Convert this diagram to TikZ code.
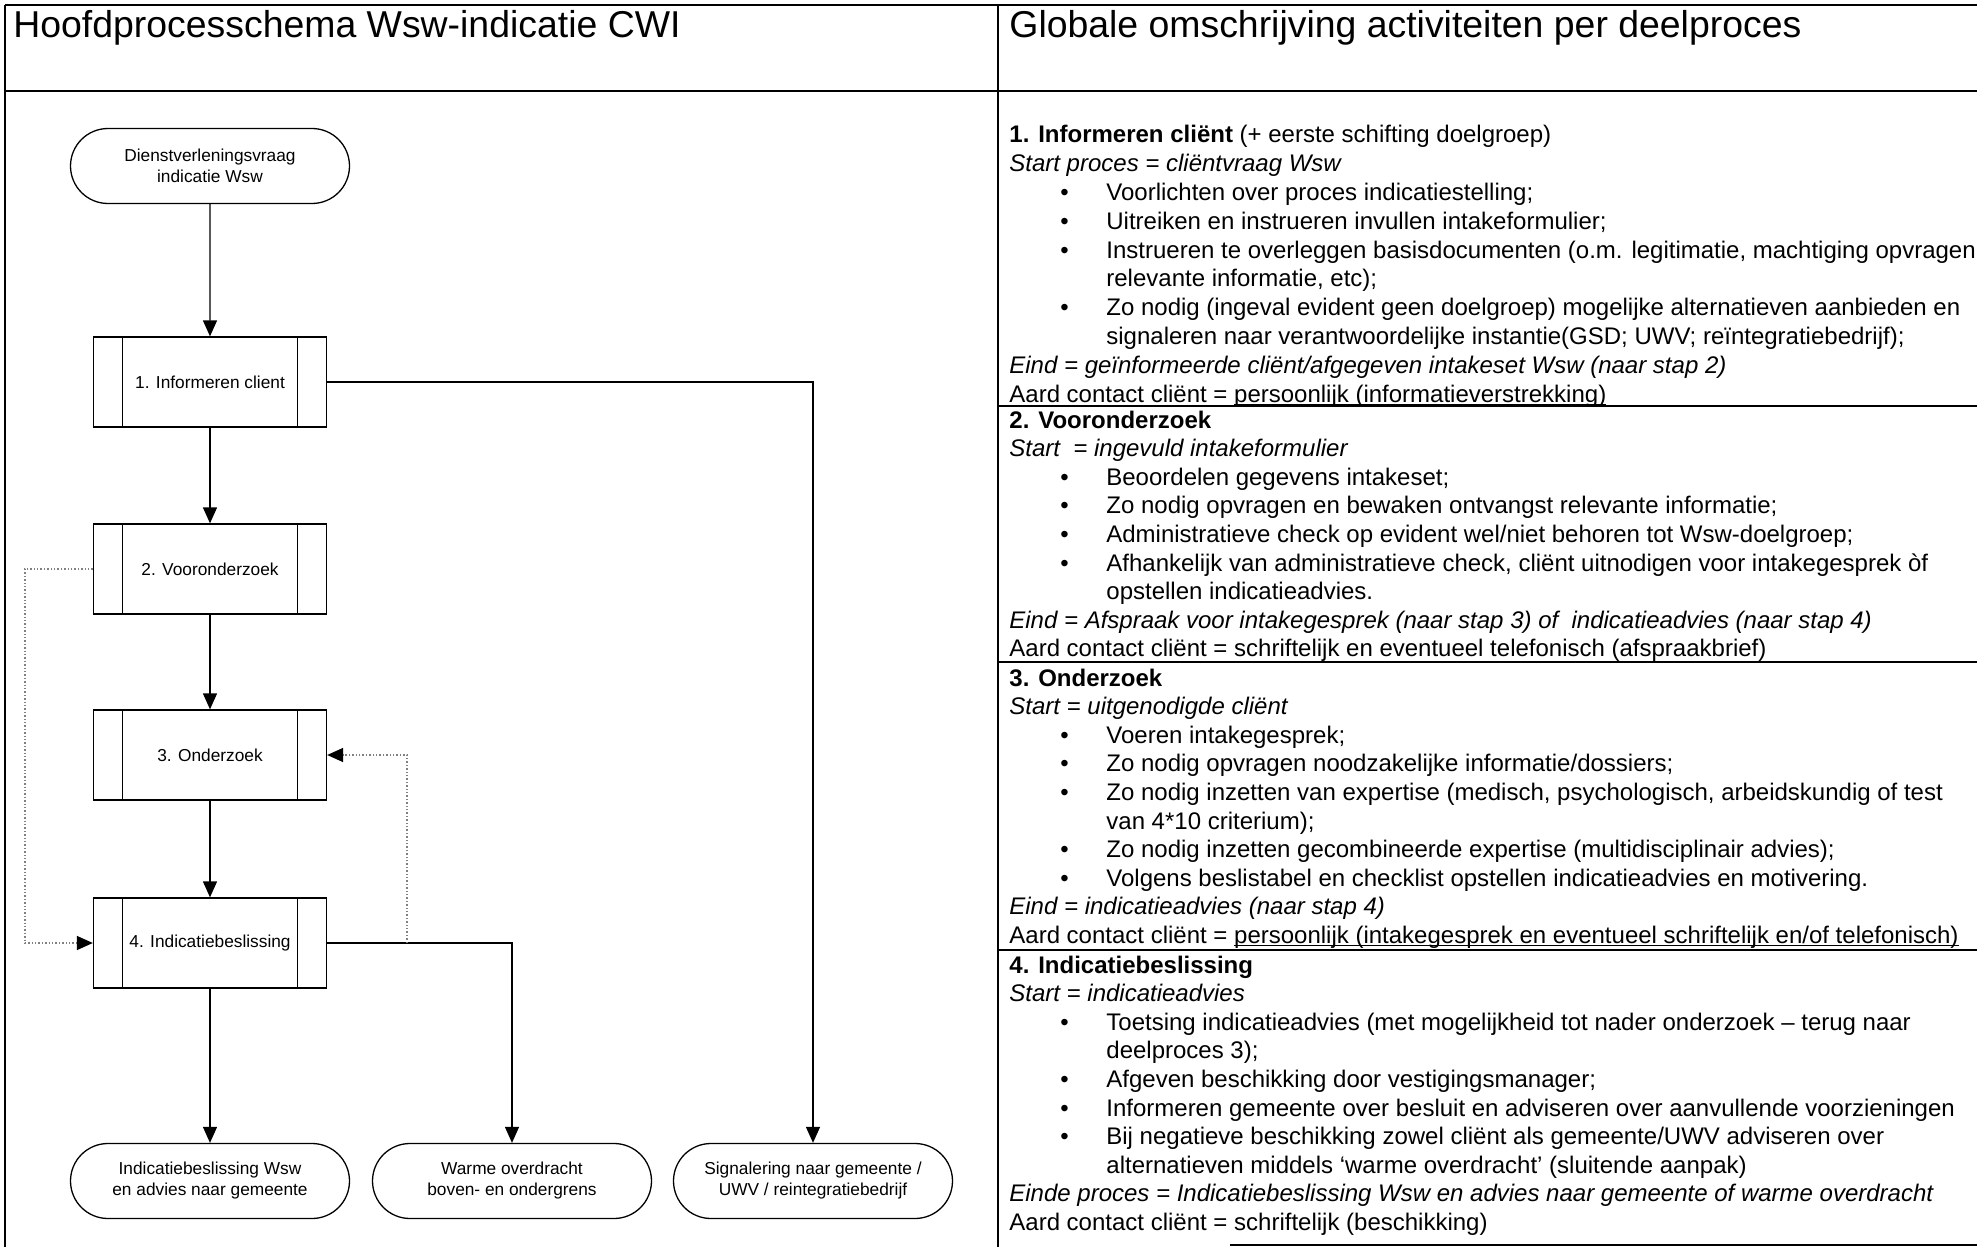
\documentclass[tikz,border=0pt]{standalone}
\usepackage{fontspec}
\setmainfont{Liberation Sans}
\usetikzlibrary{arrows.meta,shapes.misc,calc}

% bullet line, continuation line, and a close underline
\newcommand\bul[1]{\hspace*{25.5pt}\makebox[23pt][l]{\textbullet}#1}
\newcommand\cnt[1]{\hspace*{48.5pt}#1}
\newcommand\ulin[1]{\sbox0{#1}\rlap{\rule[-1.5pt]{\wd0}{0.7pt}}\usebox0}
\newcommand\bodyfont{\fontsize{12pt}{14.3pt}\selectfont}

\begin{document}
\begin{tikzpicture}[x=0.5pt,y=-0.5pt,
  frame/.style={line width=1.4pt},
  flow/.style={line width=0.65pt},
  arr/.style={flow,-{Triangle[width=7pt,length=8pt]}},
  dotarr/.style={line width=0.7pt,gray,densely dotted,-{Triangle[width=7pt,length=8pt,color=black]}},
  chart/.style={font=\fontsize{8.65pt}{10.5pt}\selectfont,align=center,inner sep=0pt},
  procbox/.style={chart,draw,line width=0.65pt,rectangle,minimum width=116.5pt,minimum height=45pt,
    path picture={
      \draw[line width=0.65pt] ([xshift=14.5pt]path picture bounding box.north west) -- ([xshift=14.5pt]path picture bounding box.south west);
      \draw[line width=0.65pt] ([xshift=-14.5pt]path picture bounding box.north east) -- ([xshift=-14.5pt]path picture bounding box.south east);}},
  term/.style={chart,draw,line width=0.65pt,rounded rectangle,minimum width=139.5pt,minimum height=37.5pt},
  headfont/.style={font=\fontsize{18.7pt}{22pt}\selectfont,anchor=base west,inner sep=0pt},
  col/.style={anchor=base west,inner sep=0pt}
]
\useasboundingbox (0,0) rectangle (1977,1247);
\fill[white] (0,0) rectangle (1977,1247);

% table rules
\draw[frame] (5,5) -- (1977,5);
\draw[frame] (5,91) -- (1977,91);
\draw[frame] (5,5) -- (5,1247);
\draw[frame] (998,5) -- (998,1247);
\draw[frame] (998,406) -- (1977,406);
\draw[frame] (998,662) -- (1977,662);
\draw[frame] (998,950) -- (1977,950);
\draw[frame] (1230,1245) -- (1977,1245);

% column headings
\node[headfont] (hleft) at (13,38) {Hoofdprocesschema Wsw-indicatie CWI};
\node[headfont] (hright) at (1009,38) {Globale omschrijving activiteiten per deelproces};

% flowchart
\node[term] (start) at (210,166) {Dienstverleningsvraag\\indicatie Wsw};
\node[procbox] (b1) at (210,382) {1. Informeren client};
\node[procbox] (b2) at (210,569) {2. Vooronderzoek};
\node[procbox] (b3) at (210,755) {3. Onderzoek};
\node[procbox] (b4) at (210,943) {4. Indicatiebeslissing};
\node[term] (t1) at (210,1181) {Indicatiebeslissing Wsw\\en advies naar gemeente};
\node[term] (t2) at (512,1181) {Warme overdracht\\boven- en ondergrens};
\node[term] (t3) at (813,1181) {Signalering naar gemeente /\\UWV / reintegratiebedrijf};

\draw[arr] (start) -- (b1);
\draw[arr] (b1) -- (b2);
\draw[arr] (b2) -- (b3);
\draw[arr] (b3) -- (b4);
\draw[arr] (b4) -- (t1);
\draw[arr] (b1.east) -| (t3.north);
\draw[arr] (b4.east) -| (t2.north);
\coordinate (fb) at (407,943);
\draw[dotarr] (fb) |- (b3.east);
\draw[dotarr] (b2.west) -- ++(-68,0) |- (b4.west);

% activity descriptions
\node[col] (s1) at (1009,143) {\parbox[t]{560pt}{\raggedright\fontsize{12pt}{14.4pt}\selectfont
\textbf{1. Informeren cliënt} (+ eerste schifting doelgroep)\\
\textit{Start proces = cliëntvraag Wsw}\\
\bul{Voorlichten over proces indicatiestelling;}\\
\bul{Uitreiken en instrueren invullen intakeformulier;}\\
\bul{Instrueren te overleggen basisdocumenten (o.m. legitimatie, machtiging opvragen}\\
\cnt{relevante informatie, etc);}\\
\bul{Zo nodig (ingeval evident geen doelgroep) mogelijke alternatieven aanbieden en}\\
\cnt{signaleren naar verantwoordelijke instantie(GSD; UWV; reïntegratiebedrijf);}\\
\textit{Eind = geïnformeerde cliënt/afgegeven intakeset Wsw (naar stap 2)}\\
Aard contact cliënt = \ulin{persoonlijk (informatieverstrekking)}}};

\node[col] (s2) at (1009,428) {\parbox[t]{560pt}{\raggedright\bodyfont
\textbf{2. Vooronderzoek}\\
\textit{Start\ \ = ingevuld intakeformulier}\\
\bul{Beoordelen gegevens intakeset;}\\
\bul{Zo nodig opvragen en bewaken ontvangst relevante informatie;}\\
\bul{Administratieve check op evident wel/niet behoren tot Wsw-doelgroep;}\\
\bul{Afhankelijk van administratieve check, cliënt uitnodigen voor intakegesprek òf}\\
\cnt{opstellen indicatieadvies.}\\
\textit{Eind = Afspraak voor intakegesprek (naar stap 3) of\ \ indicatieadvies (naar stap 4)}\\
Aard contact cliënt = schriftelijk en eventueel telefonisch (afspraakbrief)}};

\node[col] (s3) at (1009,686) {\parbox[t]{560pt}{\raggedright\bodyfont
\textbf{3. Onderzoek}\\
\textit{Start = uitgenodigde cliënt}\\
\bul{Voeren intakegesprek;}\\
\bul{Zo nodig opvragen noodzakelijke informatie/dossiers;}\\
\bul{Zo nodig inzetten van expertise (medisch, psychologisch, arbeidskundig of test}\\
\cnt{van 4*10 criterium);}\\
\bul{Zo nodig inzetten gecombineerde expertise (multidisciplinair advies);}\\
\bul{Volgens beslistabel en checklist opstellen indicatieadvies en motivering.}\\
\textit{Eind = indicatieadvies (naar stap 4)}\\
Aard contact cliënt = \ulin{persoonlijk (intakegesprek en eventueel schriftelijk en/of telefonisch)}}};

\node[col] (s4) at (1009,973) {\parbox[t]{560pt}{\raggedright\bodyfont
\textbf{4. Indicatiebeslissing}\\
\textit{Start = indicatieadvies}\\
\bul{Toetsing indicatieadvies (met mogelijkheid tot nader onderzoek – terug naar}\\
\cnt{deelproces 3);}\\
\bul{Afgeven beschikking door vestigingsmanager;}\\
\bul{Informeren gemeente over besluit en adviseren over aanvullende voorzieningen}\\
\bul{Bij negatieve beschikking zowel cliënt als gemeente/UWV adviseren over}\\
\cnt{alternatieven middels ‘warme overdracht’ (sluitende aanpak)}\\
\textit{Einde proces = Indicatiebeslissing Wsw en advies naar gemeente of warme overdracht}\\
Aard contact cliënt = schriftelijk (beschikking)}};
\end{tikzpicture}
\end{document}
